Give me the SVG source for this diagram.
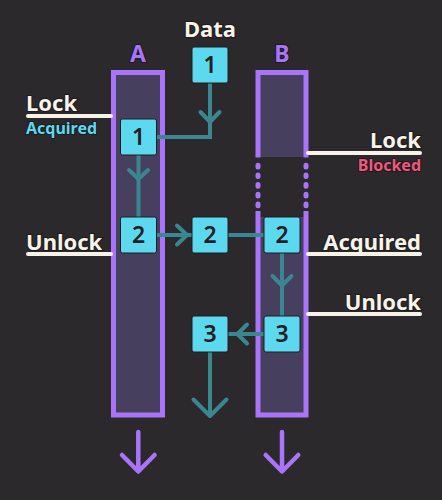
<svg xmlns="http://www.w3.org/2000/svg" width="442" height="500" viewBox="0 0 442 500">
<style>
.bg{fill:#2b292c}
.col{fill:#473f5e;stroke:#a974f7;stroke-width:5}
.side{fill:none;stroke:#a974f7;stroke-width:5}
.dash{fill:none;stroke:#a974f7;stroke-width:5;stroke-linecap:round;stroke-dasharray:1.7 8}
.colfill{fill:#473f5e}
.box{fill:#5dd9ef;stroke:#1f1c20;stroke-width:1}
.num{font-family:"Noto Sans","Open Sans",sans-serif;font-size:23px;font-weight:600;fill:#231f24;text-anchor:middle}
.edge{fill:none;stroke:#3a8791;stroke-width:4;stroke-linecap:butt;stroke-linejoin:miter}
.chev{fill:none;stroke:#3a8791;stroke-width:4;stroke-linecap:round;stroke-linejoin:round}
.parr{fill:none;stroke:#a974f7;stroke-width:4.5;stroke-linecap:round;stroke-linejoin:round}
.lbl{font-family:"Noto Sans","Open Sans",sans-serif;font-weight:700;paint-order:stroke;stroke:#1c1a1d;stroke-width:2}
.big{font-size:22px;fill:#f7f3e8}
.small{font-size:16px}
.ul{stroke:#f7f3e8;stroke-width:4;stroke-linecap:round}
</style>
<rect class="bg" x="0" y="0" width="442" height="500"/>

<g id="colA">
<rect class="col" x="113.5" y="72.5" width="49" height="342.5"/>
<text class="lbl" x="138" y="62" style="font-size:23px;fill:#a974f7" text-anchor="middle">A</text>
<path class="parr" d="M138.3,432 V471 M122,455 L138.3,471.5 L154.6,455"/>
</g>

<g id="colB">
<rect class="colfill" x="258" y="72.5" width="48" height="84.5"/>
<path class="side" d="M258,157.5 V72.5 H306 V157.5"/>
<path class="dash" d="M258,165.2 V210 M306,165.2 V210"/>
<rect class="colfill" x="258" y="217" width="48" height="198"/>
<path class="side" d="M258,211 V415 H306 V211"/>
<text class="lbl" x="282" y="62" style="font-size:23px;fill:#a974f7" text-anchor="middle">B</text>
<path class="parr" d="M282,432 V471 M265.7,455 L282,471.5 L298.3,455"/>
</g>

<g id="labels">
<text class="lbl big" x="210" y="37" text-anchor="middle">Data</text>
<text class="lbl big" x="26" y="111">Lock</text>
<line class="ul" x1="28" y1="116" x2="111" y2="116"/>
<text class="lbl small" x="26" y="134" style="fill:#5dd9ef">Acquired</text>
<text class="lbl big" x="26" y="250">Unlock</text>
<line class="ul" x1="28" y1="254" x2="111" y2="254"/>
<text class="lbl big" x="421" y="148" text-anchor="end">Lock</text>
<line class="ul" x1="308" y1="153" x2="420" y2="153"/>
<text class="lbl small" x="421" y="171" text-anchor="end" style="fill:#f0587c">Blocked</text>
<text class="lbl big" x="421" y="250" text-anchor="end">Acquired</text>
<line class="ul" x1="308" y1="254" x2="420" y2="254"/>
<text class="lbl big" x="421" y="310" text-anchor="end">Unlock</text>
<line class="ul" x1="308" y1="314" x2="420" y2="314"/>
</g>

<g id="connectors">
<path class="edge" d="M210,83 V137 H156"/>
<path class="chev" d="M200.5,112 L210,122 L219.5,112"/>
<path class="edge" d="M138.5,155 V218"/>
<path class="chev" d="M129,170 L138.5,179 L148,170"/>
<path class="edge" d="M156,235 H192"/>
<path class="chev" d="M177,225.5 L187,235 L177,244.5"/>
<path class="edge" d="M228,235 H264"/>
<path class="edge" d="M282,253 V316"/>
<path class="chev" d="M272.5,276 L282,285.5 L291.5,276"/>
<path class="edge" d="M264,334 H228"/>
<path class="chev" d="M247,324.5 L237.5,334 L247,343.5"/>
<path class="edge" d="M210,352 V414"/>
<path class="chev" d="M193.5,399.5 L210,416 L226.5,399.5"/>
</g>

<g id="data1"><rect class="box" x="192" y="47" width="36" height="36" rx="2"/><text class="num" x="210" y="73">1</text></g>
<g id="a1"><rect class="box" x="120.5" y="119" width="36" height="36" rx="2"/><text class="num" x="138.5" y="145">1</text></g>
<g id="a2"><rect class="box" x="120.5" y="217" width="36" height="36" rx="2"/><text class="num" x="138.5" y="243">2</text></g>
<g id="m2"><rect class="box" x="192" y="217" width="36" height="36" rx="2"/><text class="num" x="210" y="243">2</text></g>
<g id="b2"><rect class="box" x="264" y="217" width="36" height="36" rx="2"/><text class="num" x="282" y="243">2</text></g>
<g id="b3"><rect class="box" x="264" y="316" width="36" height="36" rx="2"/><text class="num" x="282" y="342">3</text></g>
<g id="m3"><rect class="box" x="192" y="316" width="36" height="36" rx="2"/><text class="num" x="210" y="342">3</text></g>
</svg>
